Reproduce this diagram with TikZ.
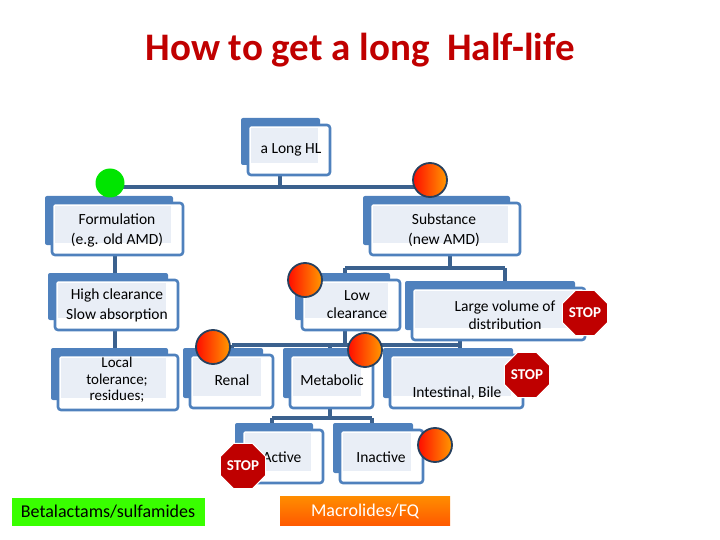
\documentclass[tikz,border=0pt]{standalone}
\usepackage{fontspec}
\setmainfont{Carlito}
\usetikzlibrary{shapes.geometric}
\definecolor{bl}{HTML}{4F81BD}
\definecolor{lt}{HTML}{E9EEF6}
\definecolor{tr}{HTML}{C00000}
\tikzset{
  conn/.style={draw=bl!75!black, line width=3.2pt},
  txt/.style={font=\fontsize{15.5}{18}\selectfont, align=center, text=black},
  orb/.style={circle, minimum size=34pt, draw=bl!50!black, line width=1.8pt, left color=red!90!orange, right color=orange!80!yellow, shading angle=90},
  stopsign/.style={regular polygon, regular polygon sides=8, minimum size=42pt, inner sep=0pt, fill=red!75!black, draw=white, line width=1pt, text=white, font=\bfseries\fontsize{15}{15}\selectfont},
}
\newcommand{\bx}[5]{% x1 y1 x2 y2 name
  \fill[bl, rounded corners=2pt] (#1-7,#2-7) rectangle (#3-10,#4-10);
  \filldraw[fill=white, draw=bl, line width=2.6pt, rounded corners=3pt] (#1,#2) rectangle (#3,#4);
  \fill[lt] (#1+3,#2+3) rectangle (#3-12,#4-12);
  \coordinate (#5) at ({(#1+#3)/2},{(#2+#4)/2});
}
\begin{document}
\begin{tikzpicture}[x=1pt,y=-1pt]
\useasboundingbox (0,0) rectangle (720,540);
\node[font=\bfseries\fontsize{39}{42}\selectfont, text=tr] (title) at (360,50) {How to get a long\ \ Half-life};
% connectors
\coordinate (j1) at (280,187);
\coordinate (jl) at (110,187);
\coordinate (jr) at (430,187);
\draw[conn] (280,170) -- (j1);
\draw[conn] (jl) -- (jr);
\draw[conn] (jl) -- (110,200);
\draw[conn] (jr) -- (430,200);
\draw[conn] (115,255) -- (115,400);
\draw[conn] (450,255) -- (450,268);
\draw[conn] (345,268) -- (505,268);
\draw[conn] (345,268) -- (345,282); \draw[conn] (505,268) -- (505,290);
\draw[conn] (345,330) -- (345,345);
\draw[conn] (232,345) -- (460,345);
\draw[conn] (232,345) -- (232,360); \draw[conn] (330,345) -- (330,360); \draw[conn] (460,340) -- (460,360);
\draw[conn] (330,408) -- (330,418);
\draw[conn] (272,418) -- (372,418);
\draw[conn] (272,418) -- (272,432); \draw[conn] (372,418) -- (372,432);
% boxes
\bx{248}{125}{330}{175}{root}
\node[txt] (troot) at (291,150) {a Long HL};
\bx{52}{203}{183}{255}{form}
\node[txt] (tform) at (117,230) {Formulation\\[2pt](e.g. old AMD)};
\bx{370}{203}{520}{255}{subs}
\node[txt] (tsubs) at (444,230) {Substance\\[2pt](new AMD)};
\bx{55}{280}{178}{330}{high}
\node[txt] (thigh) at (117,305) {High clearance\\[2pt]Slow absorption};
\bx{302}{280}{400}{330}{low}
\node[txt] (tlow) at (357,305) {Low\\clearance};
\bx{412}{288}{585}{340}{vol}
\node[txt] (tvol) at (505,315) {Large volume of\\distribution};
\bx{58}{355}{178}{410}{loc}
\node[txt, font=\fontsize{15}{16.5}\selectfont] (tloc) at (117,380) {Local\\tolerance;\\residues;};
\bx{190}{355}{273}{408}{ren}
\node[txt] (tren) at (232,380) {Renal};
\bx{290}{355}{373}{408}{met}
\node[txt] (tmet) at (332,380) {Metabolic};
\bx{390}{355}{523}{408}{int}
\node[txt] (tint) at (457,393) {Intestinal, Bile};
\bx{242}{430}{323}{483}{act}
\node[txt] (tact) at (282,457) {Active};
\bx{340}{430}{423}{483}{inact}
\node[txt] (tinact) at (381,457) {Inactive};
% markers
\node[circle, fill=green!90!black, minimum size=29pt, inner sep=0pt] (g) at (110,183) {};
\node[orb] (o1) at (430,180) {};
\node[orb] (o2) at (305,280) {};
\node[orb] (o3) at (213,347) {};
\node[orb] (o4) at (365,350) {};
\node[orb] (o5) at (435,445) {};
\node[stopsign] (s1) at (585,313) {STOP};
\node[stopsign] (s2) at (527,375) {STOP};
\node[stopsign] (s3) at (243,466) {STOP};
% bottom labels
\node[fill=green!70!lime, minimum width=193pt, minimum height=28pt, txt, font=\fontsize{18}{20}\selectfont] (beta) at (108,512) {Betalactams/sulfamides};
\node[top color=orange!90!yellow, bottom color=orange!70!red, minimum width=170pt, minimum height=29pt, txt, text=white, font=\fontsize{18}{20}\selectfont] (mac) at (365,511) {Macrolides/FQ};
\end{tikzpicture}
\end{document}
